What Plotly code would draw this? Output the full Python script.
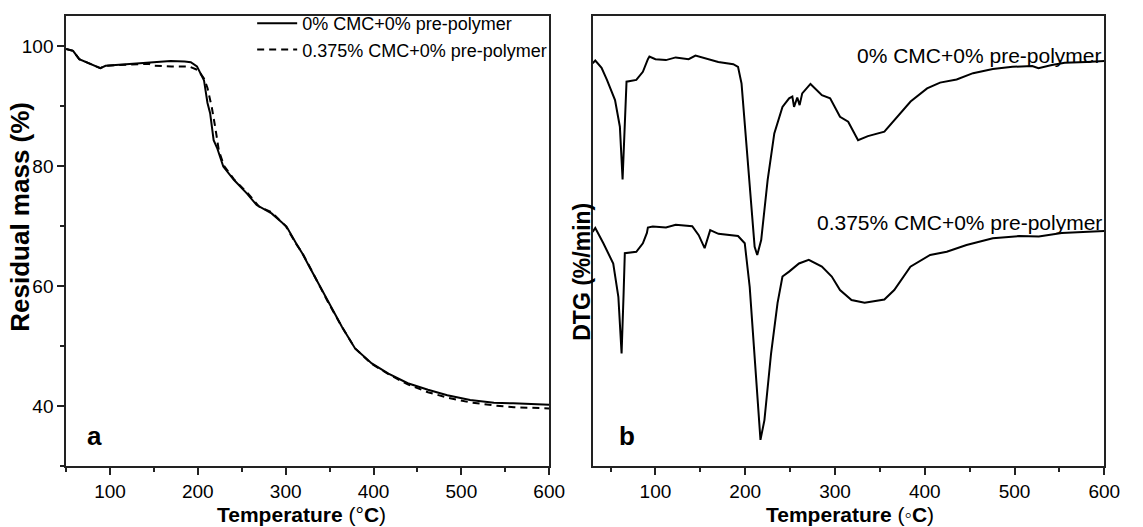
import plotly.graph_objects as go

# ---- Panel a: TGA residual mass (%) ----
t_a0 = [50, 58, 65, 72, 80, 89, 95, 105, 117, 135, 155, 169, 185, 192, 199, 203, 207, 211, 214, 218, 222, 229, 241, 256, 267, 284, 301, 312, 319, 327, 334, 349, 364, 379, 398, 417, 439, 462, 484, 510, 537, 559, 580, 600]
m_a0 = [99.5, 99.2, 97.8, 97.4, 96.9, 96.3, 96.7, 96.8, 96.9, 97.1, 97.3, 97.5, 97.4, 97.3, 96.6, 95.4, 94.3, 90.5, 88.8, 84.3, 83.0, 79.9, 77.7, 75.4, 73.5, 72.1, 69.9, 67.1, 65.4, 63.2, 61.3, 57.1, 53.2, 49.6, 47.1, 45.4, 43.8, 42.7, 41.8, 41.0, 40.55, 40.45, 40.3, 40.2]

t_a1 = [50, 58, 65, 72, 80, 89, 95, 105, 117, 135, 145, 150, 170, 190, 200, 207, 211, 216, 220, 224, 230, 241, 256, 264, 270, 284, 300, 312, 319, 327, 349, 364, 379, 398, 417, 439, 462, 484, 510, 537, 560, 580, 600]
m_a1 = [99.5, 99.2, 97.8, 97.4, 96.9, 96.3, 96.7, 96.8, 96.9, 97.0, 97.0, 96.7, 96.6, 96.6, 96.0, 94.6, 93.0, 89.7, 86.3, 82.5, 80.0, 77.8, 75.6, 74.3, 73.2, 72.3, 70.0, 67.0, 65.5, 63.3, 57.1, 53.2, 49.6, 47.0, 45.3, 43.6, 42.3, 41.4, 40.6, 40.1, 39.8, 39.7, 39.6]

# ---- Panel b: DTG (arbitrary units, curves offset) ----
t_b0 = [30, 31, 33, 40, 46, 55, 60.4, 63.4, 65.5, 67.8, 78.7, 86, 91.6, 93.3, 100, 111.7, 122.6, 137, 144.6, 155.6, 170, 186.7, 192, 195.9, 199.5, 205, 210.5, 213.4, 217.8, 225, 232.4, 241.5, 248.9, 252.5, 254.4, 258, 260.6, 263.5, 272.7, 285.4, 294.6, 305.6, 314.7, 325.7, 336.7, 355, 366, 384.2, 402.6, 417, 435.5, 453.8, 475.8, 497.7, 519.7, 526.6, 541.6, 556, 580, 600]
d_b0 = [-1.05, -1.02, -0.99, -1.15, -1.42, -1.87, -2.46, -3.63, -2.5, -1.46, -1.42, -1.24, -0.96, -0.90, -0.96, -0.98, -0.92, -0.96, -0.88, -0.94, -1.02, -1.07, -1.13, -1.50, -2.38, -3.87, -5.13, -5.31, -4.98, -3.64, -2.61, -2.02, -1.83, -1.79, -2.02, -1.81, -1.98, -1.72, -1.51, -1.76, -1.83, -2.24, -2.35, -2.76, -2.67, -2.57, -2.31, -1.90, -1.61, -1.48, -1.41, -1.27, -1.18, -1.13, -1.11, -1.16, -1.09, -1.04, -1.02, -1.00]

t_b1 = [30, 31, 33, 42, 53, 58.7, 62.3, 64.5, 65.9, 78.7, 86, 90.5, 91.6, 97, 111.7, 122.6, 141, 148.2, 154.8, 161, 170.2, 192, 199.5, 205, 210.5, 215, 217, 221.4, 228.8, 236, 241.5, 248.9, 259.9, 270.8, 285.4, 296.4, 305.6, 318.4, 333, 355, 366, 384, 406, 424.5, 446.5, 475.8, 505, 527, 552.6, 600]
d_b1 = [-4.8, -4.76, -4.71, -5.05, -5.50, -6.24, -7.50, -6.2, -5.27, -5.24, -5.05, -4.82, -4.70, -4.68, -4.70, -4.64, -4.67, -4.87, -5.16, -4.76, -4.84, -4.89, -5.05, -6.02, -7.64, -8.98, -9.42, -8.98, -7.50, -6.38, -5.79, -5.68, -5.50, -5.42, -5.57, -5.79, -6.09, -6.31, -6.37, -6.30, -6.09, -5.57, -5.31, -5.24, -5.09, -4.94, -4.89, -4.90, -4.82, -4.78]

series_names = ["0% CMC+0% pre-polymer", "0.375% CMC+0% pre-polymer"]
x_ticks = [100, 200, 300, 400, 500, 600]
y_ticks_a = [40, 60, 80, 100]

FONT = "Liberation Sans, Arial, sans-serif"
W, H = 1143, 527
TOP, BOT = 16, 466

def fx(px):
    return px / W

def fy(py):
    return 1 - py / H

fig = go.Figure()
fig.add_trace(go.Scatter(x=t_a0, y=m_a0, mode="lines", name=series_names[0],
                         line=dict(color="black", width=2), xaxis="x", yaxis="y"))
fig.add_trace(go.Scatter(x=t_a1, y=m_a1, mode="lines", name=series_names[1],
                         line=dict(color="black", width=2, dash="7px,5px"), xaxis="x", yaxis="y"))
fig.add_trace(go.Scatter(x=t_b0, y=d_b0, mode="lines", showlegend=False,
                         line=dict(color="black", width=2), xaxis="x2", yaxis="y2"))
fig.add_trace(go.Scatter(x=t_b1, y=d_b1, mode="lines", showlegend=False,
                         line=dict(color="black", width=2), xaxis="x2", yaxis="y2"))

axis_common = dict(showline=True, linecolor="#222", linewidth=1.5, mirror=True,
                   showgrid=False, zeroline=False, ticks="outside", ticklen=7,
                   tickwidth=1.5, tickcolor="#222",
                   tickfont=dict(family=FONT, size=19, color="black"))
minor_x = dict(dtick=50, ticklen=4, tickcolor="#222", ticks="outside", tick0=50)

fig.update_layout(
    width=W, height=H,
    margin=dict(l=0, r=0, t=0, b=0),
    paper_bgcolor="white", plot_bgcolor="white",
    showlegend=True,
    legend=dict(x=fx(560), y=fy(5), xanchor="right", yanchor="top",
                bgcolor="rgba(0,0,0,0)", font=dict(family=FONT, size=18, color="black"),
                tracegroupgap=0, itemwidth=40),
    xaxis=dict(domain=[fx(67), fx(557)], range=[50, 600], tickvals=x_ticks,
               minor=minor_x, anchor="y", **axis_common),
    yaxis=dict(domain=[fy(BOT), fy(TOP)], range=[30, 105], tickvals=y_ticks_a,
               minor=dict(dtick=10, ticklen=4, tickcolor="#222", ticks="outside", tick0=30),
               anchor="x", **axis_common),
    xaxis2=dict(domain=[fx(601), fx(1120)], range=[30, 600], tickvals=x_ticks,
                minor=minor_x, anchor="y2", **axis_common),
    yaxis2=dict(domain=[fy(BOT), fy(TOP)], range=[-10, 0], showline=True, linecolor="#222",
                linewidth=1.5, mirror=True, showgrid=False, zeroline=False,
                showticklabels=False, ticks="", anchor="x2"),
)

def note(px, py, text, size, bold=False, xanchor="center", angle=0):
    fig.add_annotation(x=fx(px), y=fy(py), xref="paper", yref="paper",
                       text=f"<b>{text}</b>" if bold else text, textangle=angle,
                       xanchor=xanchor, yanchor="middle", showarrow=False,
                       font=dict(family=FONT, size=size, color="black"))

# axis titles
note(306, 514, "<b>Temperature</b> (°<b>C</b>)", 21)
note(862, 514, "<b>Temperature</b> (◦<b>C</b>)", 21)
note(20, 217, "Residual mass (%)", 26, bold=True, angle=-90)
note(590, 272, "DTG (%/min)", 23, bold=True, angle=-90)
# panel letters
note(96, 436, "a", 26, bold=True)
note(636, 436, "b", 26, bold=True)
# curve labels on panel b
note(1120, 55, series_names[0], 21, xanchor="right")
note(1120, 223, series_names[1], 21, xanchor="right")

fig.write_html("out.html", config={"displayModeBar": False},
               post_script="document.body.style.margin='0';")
